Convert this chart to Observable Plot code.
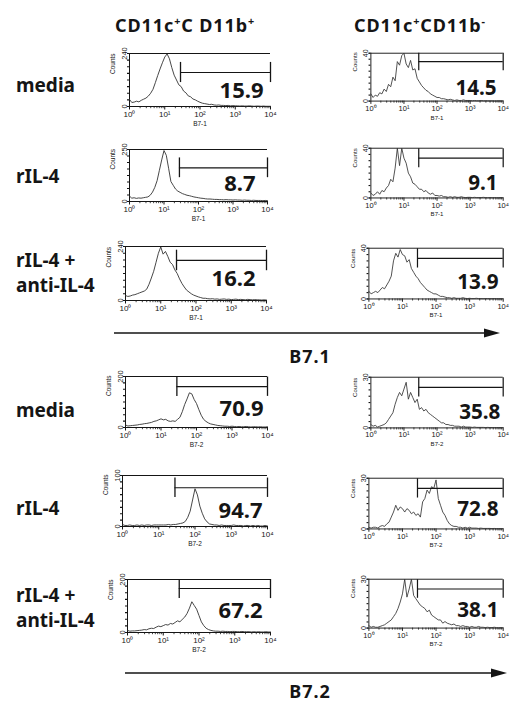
<!DOCTYPE html>
<html><head><meta charset="utf-8">
<script src="https://cdn.jsdelivr.net/npm/d3@7"></script>
<script src="https://cdn.jsdelivr.net/npm/@observablehq/plot@0.6"></script>
<style>
html,body{margin:0;padding:0;background:#fff;overflow:hidden}
#fig{position:relative;width:514px;height:704px;overflow:hidden;background:#fff}
.panel{position:absolute}
#overlay{position:absolute;left:0;top:0}
</style></head><body><div id="fig"></div>
<script>
// ---- Labels ----
const columnHeaders = ["CD11c|+|C D11b|+", "CD11c|+|CD11b|-"];
const rowLabels = [["media"], ["rIL-4"], ["rIL-4 +", "anti-IL-4"], ["media"], ["rIL-4"], ["rIL-4 +", "anti-IL-4"]];
const markerTitles = ["B7.1", "B7.2"];
const axisLabels = ["B7-1", "B7-1", "B7-1", "B7-2", "B7-2", "B7-2"];
const decadeTicks = [1, 10, 100, 1000, 10000];
const gatePercent = [["15.9", "14.5"], ["8.7", "9.1"], ["16.2", "13.9"], ["70.9", "35.8"], ["94.7", "72.8"], ["67.2", "38.1"]];
const countsMax = [[240, 40], [250, 40], [240, 40], [200, 30], [100, 30], [200, 30]];
const gateStart = 28;
const gateLevel = [[154, 33], [162, 32], [178, 32], [160, 24], [76, 24], [166, 24]];

// ---- Histogram counts, 61 channels over 10^0 .. 10^4 (15 per decade) ----
const b71_dp_media = [32,18,20,24,21,28,33,38,47,60,78,108,140,170,198,224,238,216,176,142,120,98,90,70,62,48,44,34,30,24,19,15,13,11,9,10,7,6,7,5,5,4,5,3,4,3,3,2,3,2,2,3,2,1,2,2,1,2,1,1,1];
const b71_dp_ril4 = [26,16,18,15,17,16,18,20,22,30,45,68,100,150,200,245,222,160,96,78,60,50,44,38,34,30,28,25,22,20,18,16,15,13,12,12,11,10,10,9,9,8,9,8,8,7,8,7,7,6,7,6,6,5,6,5,5,5,4,5,4];
const b71_dp_anti = [22,18,20,24,26,30,34,38,42,50,72,100,130,170,210,238,206,218,196,170,160,136,120,96,76,60,46,38,30,24,20,16,13,10,10,8,7,8,6,7,5,6,7,5,6,4,5,6,4,5,4,3,5,4,3,4,3,3,2,3,2];
const b72_dp_media = [10,6,7,8,9,10,12,13,15,16,18,20,24,26,30,34,30,32,26,24,26,24,32,40,62,90,112,136,132,110,94,70,48,32,24,18,14,12,10,8,7,6,5,5,4,5,4,3,4,3,3,4,3,2,3,3,2,3,2,2,3];
const b72_dp_ril4 = [4,2,2,3,2,2,3,2,3,2,3,3,2,3,3,3,3,3,3,4,3,4,4,5,6,7,10,18,30,52,74,62,40,26,15,9,5,4,3,3,2,3,2,2,2,2,3,2,2,2,1,2,2,1,2,1,2,1,1,2,1];
const b72_dp_anti = [8,5,6,6,7,8,9,11,10,14,16,15,20,24,22,26,30,28,34,32,38,44,40,50,58,72,92,116,102,88,64,40,26,16,11,8,6,5,5,4,5,4,4,3,4,4,3,3,4,3,3,3,2,3,2,3,2,2,3,2,2];
const b71_sp_media = [6,3,5,4,7,6,10,8,14,12,20,17,33,30,38,40,31,28,34,26,27,19,16,13,11,9,8,6,5,4,3,3,2,2,1.5,1,1.5,1,0.5,1,0.5,0.5,1,0.5,0.5,0.5,0.3,0.5,0.3,0.3,0.5,0.3,0.3,0.3,0.2,0.3,0.2,0.2,0.3,0.2,0.2];
const b71_sp_ril4 = [4,2,3,5,3,6,5,8,10,15,13,24,40,26,40,32,28,20,17,12,11,9,7,7,5,6,4,3,4,2,2,1.5,2,1,1,0.5,1,0.5,1,0.5,0.5,1,0.5,0.3,0.5,0.5,0.3,0.5,0.3,0.3,0.3,0.5,0.3,0.2,0.3,0.2,0.3,0.2,0.2,0.3,0.2];
const b71_sp_anti = [6,4,5,6,5,7,9,8,11,14,18,30,36,33,39,35,34,29,31,24,21,18,16,13,11,9,7,6,5,4,4,3,2,2,1.5,1,1,0.5,1,0.5,0.5,0.5,1,0.5,0.3,0.5,0.3,0.3,0.5,0.3,0.3,0.2,0.3,0.3,0.2,0.2,0.3,0.2,0.2,0.2,0.2];
const b72_sp_media = [2,1,1.5,0.5,1,1.5,2,3,5,7,9,14,18,21,19,23,27,17,21,18,15,17,11,12,10,11,9,8,7,6,5,4,3,3,2,2,1.5,1.5,1,1,1,0.5,1,0.5,0.5,0.5,0.3,0.5,0.3,0.3,0.3,0.3,0.2,0.3,0.2,0.2,0.2,0.2,0.2,0.2,0.2];
const b72_sp_ril4 = [1,0.5,1,1,0.5,1.5,2,1.5,3,4,7,10,14,11,13,12,10,12,11,9,10,8,9,7,16,18,23,21,25,24,29,18,14,10,8,5,3,2,1.5,1.5,1,1,0.5,1,0.5,1,0.5,0.5,0.5,0.3,0.5,0.3,0.3,0.3,0.3,0.2,0.3,0.2,0.2,0.2,0.2];
const b72_sp_anti = [1.5,0.5,1,0.5,0.5,1,1.5,2,3,4,5,7,9,12,16,21,30,19,24,30,20,18,16,14,13,12,10,11,8,7,6,5,5,3,4,3,2.5,2,2.5,1.5,1.5,1,1.5,1,1,0.5,1,0.5,0.5,1,0.5,0.5,0.3,0.5,0.3,0.3,0.5,0.3,0.2,0.3,0.2];

const histograms = [
  [b71_dp_media, b71_sp_media], [b71_dp_ril4, b71_sp_ril4], [b71_dp_anti, b71_sp_anti],
  [b72_dp_media, b72_sp_media], [b72_dp_ril4, b72_sp_ril4], [b72_dp_anti, b72_sp_anti]
];

// ---- Layout (frame left, top, width, height, label dx, label dy) ----
const layout = [
  [[129, 53, 141, 53, -7, -9], [372, 53, 141, 51, -7, -7]],
  [[129, 149, 138, 52, -12, -11], [372, 148, 141, 53, -6, -9]],
  [[125, 246, 141, 54, -11, -15], [370, 248, 143, 54, -5, -11]],
  [[125, 376, 142, 51, -4, -12], [372, 377, 141, 54, -3, -9]],
  [[122, 475, 145, 51, -5, -9], [370, 478, 143, 54, -5, -14]],
  [[127, 579, 143, 53, -8, -15], [370, 579, 143, 52, -5, -12]]
];

const fig = document.getElementById("fig");
const sup = ["\u2070", "\u00b9", "\u00b2", "\u00b3", "\u2074"];
const minorTicks = [];
for (const d of decadeTicks.slice(0, 4)) for (let k = 2; k <= 9; k++) minorTicks.push(d * k);
const ink = "#151515";

function drawPanel(r, c) {
  const [fl, ft, fw, fh, ldx, ldy] = layout[r][c];
  const ML = 26, MR = 12, MT = 4, MB = 26;
  const counts = histograms[r][c];
  const ymax = countsMax[r][c];
  const gy = gateLevel[r][c];
  const n = counts.length;
  const pts = counts.map((v, i) => ({x: Math.pow(10, i * 4 / (n - 1)), y: v}));
  const half = ymax * 0.19;
  const svg = Plot.plot({
    width: fw + ML + MR, height: fh + MT + MB,
    marginLeft: ML, marginRight: MR, marginTop: MT, marginBottom: MB,
    style: {fontFamily: "'Liberation Sans Narrow', 'Liberation Sans', sans-serif", background: "transparent", overflow: "visible", color: ink},
    x: {type: "log", domain: [1, 1e4], label: null},
    y: {domain: [0, ymax], label: null},
    marks: [
      Plot.axisX({ticks: minorTicks, tickSize: 2.2, tickFormat: () => "", label: null, strokeWidth: 0.8}),
      Plot.axisX({ticks: decadeTicks, tickSize: 3.5, tickPadding: 1, fontSize: 8, label: null,
        tickFormat: d => "10" + sup[Math.round(Math.log10(d))]}),
      Plot.axisY({ticks: d3.range(0, 9).map(k => k * ymax / 8), tickSize: 2, tickFormat: () => "", label: null, strokeWidth: 1.2}),
      Plot.axisY({ticks: [0, ymax], tickSize: 2, tickPadding: 1, tickRotate: -90, fontSize: 7.5, label: null}),
      Plot.text(["Counts"], {text: d => d, frameAnchor: "left", dx: -17, dy: -6, rotate: -90, fontSize: 6.5, fill: ink}),
      Plot.ruleY([0], {stroke: ink, strokeWidth: 1}),
      Plot.ruleX([1], {stroke: ink, strokeWidth: 1}),
      Plot.ruleY([ymax], {stroke: ink, strokeWidth: 1}),
      Plot.line(pts, {x: "x", y: "y", stroke: "#333", strokeWidth: 0.9}),
      Plot.ruleY([gy], {x1: gateStart, x2: 1e4, stroke: ink, strokeWidth: 1.2}),
      Plot.ruleX([gateStart, 1e4], {y1: gy - half, y2: Math.min(ymax, gy + half), stroke: ink, strokeWidth: 1.3}),
      Plot.text([gatePercent[r][c]], {text: d => d, frameAnchor: "bottom-right", dx: ldx, dy: ldy,
        fontSize: 22, fontWeight: 700, fontFamily: "'Noto Sans', sans-serif", textAnchor: "end", lineAnchor: "bottom", fill: ink}),
      Plot.text([axisLabels[r]], {text: d => d, frameAnchor: "bottom", dy: 15, fontSize: 6.5, lineAnchor: "top", fill: ink})
    ]
  });
  const div = document.createElement("div");
  div.className = "panel";
  div.style.left = (fl - ML) + "px";
  div.style.top = (ft - MT) + "px";
  div.appendChild(svg);
  fig.appendChild(div);
}

for (let r = 0; r < 6; r++) for (let c = 0; c < 2; c++) drawPanel(r, c);

// ---- overlay text and arrows ----
const NS = "http://www.w3.org/2000/svg";
const ov = document.createElementNS(NS, "svg");
ov.setAttribute("id", "overlay");
ov.setAttribute("width", 514);
ov.setAttribute("height", 704);
fig.appendChild(ov);
function txt(x, y, s, size, anchor, spacing) {
  const t = document.createElementNS(NS, "text");
  t.setAttribute("x", x); t.setAttribute("y", y);
  t.setAttribute("font-family", "'Noto Sans', sans-serif");
  t.setAttribute("font-weight", "700");
  t.setAttribute("font-size", size);
  t.setAttribute("fill", ink);
  t.setAttribute("text-anchor", anchor || "start");
  if (spacing) t.setAttribute("letter-spacing", spacing);
  const parts = s.split("|");
  parts.forEach((p, i) => {
    const ts = document.createElementNS(NS, "tspan");
    ts.textContent = p;
    if (i % 2 === 1) {
      ts.setAttribute("font-size", size * 0.6);
      ts.setAttribute("dy", -size * 0.38);
    } else if (i > 0) {
      ts.setAttribute("dy", size * 0.38);
    }
    t.appendChild(ts);
  });
  ov.appendChild(t);
}
txt(115, 32, columnHeaders[0], 18, "start", 0.9);
txt(354, 32, columnHeaders[1], 18, "start", 0.9);
const rowBase = [[92], [183], [267, 292], [417], [515], [602, 627]];
rowLabels.forEach((lines, r) => lines.forEach((s, k) => txt(16, rowBase[r][k], s, 19, "start")));
txt(310, 363, markerTitles[0], 18, "middle", 1);
txt(310, 698, markerTitles[1], 18, "middle", 1);
function arrow(x1, x2, y) {
  const l = document.createElementNS(NS, "line");
  l.setAttribute("x1", x1); l.setAttribute("x2", x2 - 10);
  l.setAttribute("y1", y); l.setAttribute("y2", y);
  l.setAttribute("stroke", ink); l.setAttribute("stroke-width", 1.6);
  ov.appendChild(l);
  const p = document.createElementNS(NS, "polygon");
  p.setAttribute("points", `${x2 - 16},${y - 4.5} ${x2},${y} ${x2 - 16},${y + 4.5}`);
  p.setAttribute("fill", ink);
  ov.appendChild(p);
}
arrow(114, 500, 333);
arrow(125, 507, 673);
</script></body></html>
